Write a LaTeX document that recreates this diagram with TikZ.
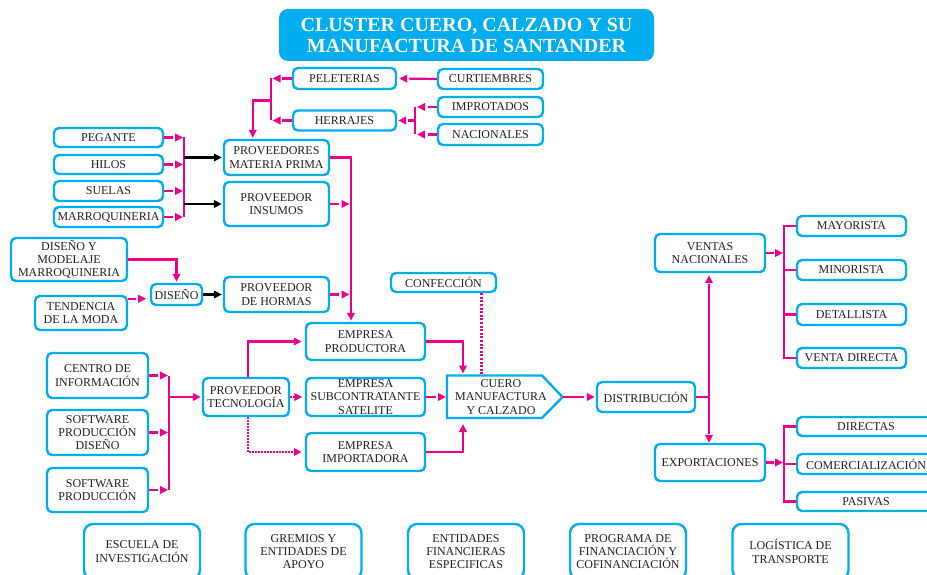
\documentclass[tikz,border=0pt]{standalone}
\usepackage{fontspec}
\setmainfont{Liberation Serif}
\usetikzlibrary{arrows.meta,calc}
\definecolor{cy}{HTML}{00AEEF}
\definecolor{mg}{HTML}{EC008C}
\definecolor{tx}{HTML}{231F20}
\newcommand\bxf{\fontsize{12}{13.3}\selectfont}
\newcommand\ttlf{\fontsize{20}{21}\selectfont\bfseries}
\begin{document}
\begin{tikzpicture}[x=1pt,y=-1pt,
  box/.style={draw=cy, line width=2.4pt, fill=white, rounded corners=5pt, align=center, inner sep=1pt, font=\bxf, text=tx},
  nb/.style 2 args={box, minimum width=#1pt, minimum height=#2pt},
  bot/.style={box, rounded corners=9pt, minimum width=116pt, minimum height=55pt},
  mgl/.style={draw=mg, line width=2.2pt},
  tp/.style={-{Triangle[length=8pt,width=7.5pt]}},
  sa/.style={mgl, tp},
  ga/.style={mgl, tp, dash pattern=on #1 off 500pt},
  ga/.default=9pt,
  ba/.style={draw=black, line width=2.3pt, tp},
  bga/.style={draw=black, line width=2.3pt, tp, dash pattern=on #1 off 500pt},
  da/.style={mgl, tp, dash pattern=on 1.6pt off 1.4pt},
  dl/.style={mgl, dash pattern=on 2pt off 1.6pt}
]
\path[use as bounding box] (0,0) rectangle (927,575);
\clip (0,0) rectangle (927,575);

% title
\node[fill=cy, rounded corners=9pt, minimum width=375pt, minimum height=52pt, text=white, font=\ttlf, align=center, inner sep=0pt] (title) at (466.5,35) {CLUSTER CUERO, CALZADO Y SU\\MANUFACTURA DE SANTANDER};

% top group
\node[nb={103}{21}] (pel) at (344.5,78.5) {PELETERIAS};
\node[nb={105}{20}] (cur) at (490.5,79) {CURTIEMBRES};
\node[nb={103}{20}] (her) at (344.5,120.5) {HERRAJES};
\node[nb={105}{20}] (imp) at (490.5,107) {IMPROTADOS};
\node[nb={105}{21}] (nac) at (490.5,134.5) {NACIONALES};

% left group
\node[nb={109}{19}] (peg) at (108.5,137.5) {PEGANTE};
\node[nb={109}{19}] (hil) at (108.5,164.5) {HILOS};
\node[nb={109}{20}] (sue) at (108.5,191) {SUELAS};
\node[nb={109}{20}] (mar) at (108.5,217) {MARROQUINERIA};
\node[nb={105}{35}] (pmp) at (276.5,157.5) {PROVEEDORES\\MATERIA PRIMA};
\node[nb={105}{44}] (pin) at (276.5,204) {PROVEEDOR\\INSUMOS};

\node[nb={116}{43}] (dym) at (69,259.5) {DISEÑO Y\\MODELAJE\\MARROQUINERIA};
\node[nb={92}{34}] (ten) at (81,313) {TENDENCIA\\DE LA MODA};
\node[nb={51}{21}] (dis) at (176.5,294.5) {DISEÑO};
\node[nb={105}{35}] (phm) at (276.5,294.5) {PROVEEDOR\\DE HORMAS};

\node[nb={119}{37}] (epr) at (365.5,341.5) {EMPRESA\\PRODUCTORA};
\node[nb={119}{38}] (esu) at (365.5,397) {EMPRESA\\SUBCONTRATANTE\\SATELITE};
\node[nb={119}{38}] (eim) at (365.5,452) {EMPRESA\\IMPORTADORA};

\node[nb={101}{45}] (cen) at (97.5,375.5) {CENTRO DE\\INFORMACIÓN};
\node[nb={101}{45}] (spd) at (97.5,432.5) {SOFTWARE\\PRODUCCIÓN\\DISEÑO};
\node[nb={101}{44}] (spr) at (97.5,490) {SOFTWARE\\PRODUCCIÓN};
\node[nb={86}{38}] (ptc) at (246,397) {PROVEEDOR\\TECNOLOGÍA};

\node[nb={105}{19}] (con) at (443.5,282.5) {CONFECCIÓN};

% cuero shape
\coordinate (cuNW) at (447,375.5);
\coordinate (cuNE) at (542,375.5);
\coordinate (cuTip) at (562.5,397);
\coordinate (cuSE) at (542,418);
\coordinate (cuSW) at (447,418);
\coordinate (cuW) at (447,397);
\draw[draw=cy, line width=2.4pt, fill=white] (cuNW) -- (cuNE) -- (cuTip) -- (cuSE) -- (cuSW) -- cycle;
\node[font=\bxf, text=tx, align=center, inner sep=0pt] (cuero) at (501,397) {CUERO\\MANUFACTURA\\Y CALZADO};

\node[nb={98}{30}] (dst) at (646,397) {DISTRIBUCIÓN};
\node[nb={110}{38}] (vn) at (710,253) {VENTAS\\NACIONALES};
\node[nb={110}{37}] (ex) at (710,462.5) {EXPORTACIONES};

\node[nb={109}{20}] (may) at (851.5,226) {MAYORISTA};
\node[nb={109}{20}] (min) at (851.5,270) {MINORISTA};
\node[nb={109}{21}] (det) at (851.5,314.5) {DETALLISTA};
\node[nb={109}{20}] (vd) at (851.5,358) {VENTA DIRECTA};
\node[nb={138}{19}] (dir) at (866,426.5) {DIRECTAS};
\node[nb={138}{20}] (com) at (866,464) {COMERCIALIZACIÓN};
\node[nb={138}{19}] (pas) at (866,501.5) {PASIVAS};

% bottom
\node[bot] (esc) at (142,551.5) {ESCUELA DE\\INVESTIGACIÓN};
\node[bot] (gre) at (303.5,551.5) {GREMIOS Y\\ENTIDADES DE\\APOYO};
\node[bot] (ent) at (466,551.5) {ENTIDADES\\FINANCIERAS\\ESPECIFICAS};
\node[bot] (pro) at (628,551.5) {PROGRAMA DE\\FINANCIACIÓN Y\\COFINANCIACIÓN};
\node[bot] (log) at (790.5,551.5) {LOGÍSTICA DE\\TRANSPORTE};

% ---------- connectors ----------
% top
\coordinate (tb1) at (271,78.5);
\coordinate (tb2) at (271,120.5);
\coordinate (tbm) at (271,100.5);
\draw[ga=28pt] (cur.west) -- ($(pel.east)+(2,0)$);
\draw[ga=10pt] (pel.west) -- ($(tb1)+(1.5,0)$);
\draw[ga=10pt] (her.west) -- ($(tb2)+(1.5,0)$);
\draw[mgl] (tb1) -- (tb2);
\draw[sa] (tbm) -| ($(pmp.north west)+(30,-1)$);

\coordinate (hb) at (415,120.5);
\coordinate (hbx) at (415,0);
\draw[ga] (imp.west) -- ($(imp.west -| hbx)+(2,0)$);
\draw[ga] (nac.west) -- ($(nac.west -| hbx)+(2,0)$);
\draw[mgl] (imp.west -| hbx) -- (nac.west -| hbx);
\draw[ga=7pt] (hb) -- ($(her.east)+(1,0)$);

% left group
\coordinate (lbx) at (184,0);
\foreach \n in {peg,hil,sue,mar}
  \draw[ga] (\n.east) -- ($(\n.east -| lbx)+(-1,0)$);
\draw[mgl] (peg.east -| lbx) -- (mar.east -| lbx);
\draw[ba] (pmp.west -| lbx) -- ($(pmp.west)+(-1,0)$);
\draw[ba] (pin.west -| lbx) -- ($(pin.west)+(-1,0)$);

\coordinate (vx) at (351,0);
\draw[sa] (pmp.east) -| ($(epr.north -| vx)+(0,-1)$);
\draw[ga] (pin.east) -- ($(pin.east -| vx)+(-1.5,0)$);
\draw[ga] (phm.east) -- ($(phm.east -| vx)+(-1.5,0)$);

\draw[sa] (dym.east) -| ($(dis.north)+(0,-1)$);
\draw[ga=8pt] ($(ten.north east)+(0,4)$) -- ($(ten.north east)+(18,4)$);
\draw[bga=11pt] (dis.east) -- ($(phm.west)+(-1,0)$);

% technology group
\coordinate (cbx) at (169,0);
\foreach \n in {cen,spd,spr}
  \draw[ga] (\n.east) -- ($(\n.east -| cbx)+(-1,0)$);
\draw[mgl] (cen.east -| cbx) -- (spr.east -| cbx);
\draw[sa] (ptc.west -| cbx) -- ($(ptc.west)+(-1,0)$);
\draw[sa] ($(ptc.north)+(2,0)$) |- ($(epr.west)+(-3,0)$);
\draw[da] (ptc.east) -- ($(esu.west)+(-2.5,0)$);
\draw[da] ($(ptc.south)+(2,0)$) |- ($(eim.west)+(-3,0)$);

% into cuero
\draw[sa] (epr.east) -| ($(cuNW)+(16,-2)$);
\draw[ga=10pt] (esu.east) -- ($(cuW)+(-1,0)$);
\draw[sa] (eim.east) -| ($(cuSW)+(16,6)$);
\coordinate (cdx) at (481.5,0);
\draw[dl] (con.south -| cdx) -- (cuNW -| cdx);

% distribution
\draw[ga=21pt] (cuTip) -- ($(dst.west)+(-1,0)$);
\coordinate (jd) at (709,397);
\draw[mgl] (dst.east) -- (jd);
\draw[ga=113pt] (jd) -- ($(vn.south -| jd)+(0,2)$);
\draw[ga=37pt] (jd) -- (ex.north -| jd);

% right buses
\coordinate (rbx) at (784,0);
\draw[ga=8pt] (vn.east) -- ($(vn.east -| rbx)+(-1,0)$);
\draw[mgl] (may.west) -- (may.west -| rbx) -- (vd.west -| rbx) -- (vd.west);
\draw[mgl] (min.west -| rbx) -- (min.west);
\draw[mgl] (det.west -| rbx) -- (det.west);
\draw[ga=8pt] (ex.east) -- ($(ex.east -| rbx)+(-1,0)$);
\draw[mgl] (dir.west) -- (dir.west -| rbx) -- (pas.west -| rbx) -- (pas.west);
\draw[mgl] (com.west -| rbx) -- (com.west);
\end{tikzpicture}
\end{document}
